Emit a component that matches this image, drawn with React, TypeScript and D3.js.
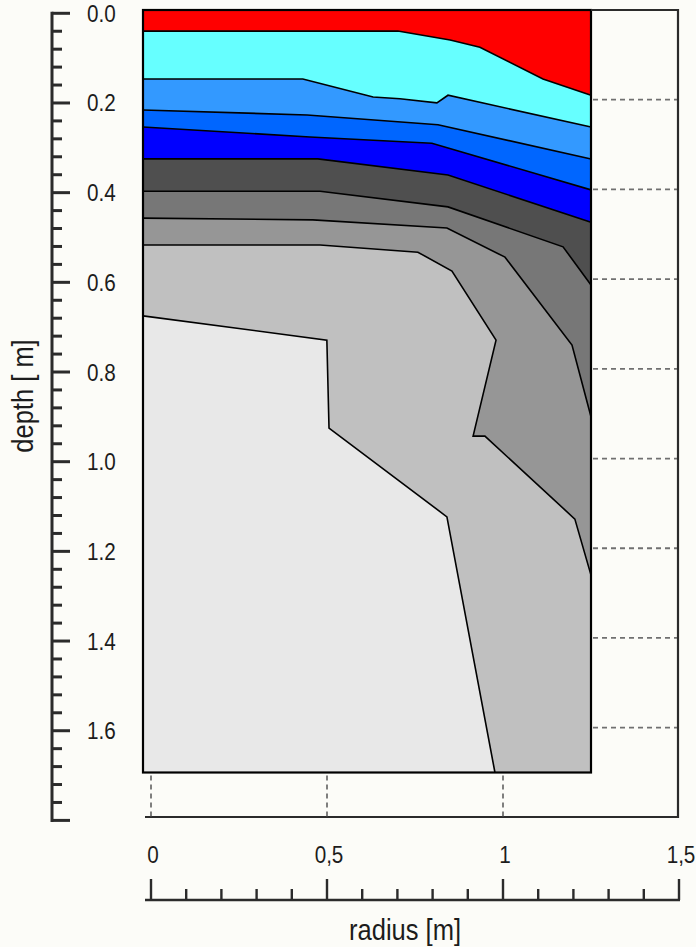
import React from "react";
import * as d3 from "d3";

// ---- data (radius [m], depth [m]) ----
const boundary1: [number, number][] = [[0, 0.047], [0.711, 0.047], [0.857, 0.067], [0.94, 0.083], [1.116, 0.154], [1.25, 0.19]];
const boundary2: [number, number][] = [[0, 0.154], [0.446, 0.154], [0.642, 0.194], [0.717, 0.198], [0.82, 0.207], [0.851, 0.19], [1.25, 0.261]];
const boundary3: [number, number][] = [[0, 0.223], [0.458, 0.234], [0.823, 0.256], [1.25, 0.332]];
const boundary4: [number, number][] = [[0, 0.261], [0.466, 0.283], [0.806, 0.297], [1.25, 0.401]];
const boundary5: [number, number][] = [[0, 0.332], [0.488, 0.332], [0.851, 0.368], [1.25, 0.473]];
const boundary6: [number, number][] = [[0, 0.404], [0.494, 0.404], [0.851, 0.439], [1.172, 0.528], [1.25, 0.613]];
const boundary7: [number, number][] = [[0, 0.464], [0.474, 0.468], [0.848, 0.486], [1.01, 0.551], [1.197, 0.747], [1.25, 0.907]];
const boundary8: [number, number][] = [[0, 0.524], [0.494, 0.524], [0.767, 0.54], [0.862, 0.582], [0.985, 0.736], [0.921, 0.95], [0.954, 0.95], [1.205, 1.135], [1.25, 1.26]];
const boundary9: [number, number][] = [[0, 0.682], [0.513, 0.736], [0.519, 0.932], [0.848, 1.13], [0.982, 1.7]];
const boundaries = [boundary1, boundary2, boundary3, boundary4, boundary5, boundary6, boundary7, boundary8, boundary9];

const bandColors = ["#ff0000", "#66ffff", "#3399ff", "#0066ff", "#0000ff", "#4f4f4f", "#777777", "#969696", "#c0c0c0", "#e8e8e8"];

const plotRadiusMax = 1.25;
const plotDepthMax = 1.7;
const depthLabels = ["0.0", "0.2", "0.4", "0.6", "0.8", "1.0", "1.2", "1.4", "1.6"];
const depthLabelValues = [0, 0.2, 0.4, 0.6, 0.8, 1.0, 1.2, 1.4, 1.6];
const radiusLabels = ["0", "0,5", "1", "1,5"];
const radiusLabelValues = [0, 0.5, 1, 1.5];
const gridDepths = [0.2, 0.4, 0.6, 0.8, 1.0, 1.2, 1.4, 1.6];
const gridRadii = [0, 0.5, 1.0];

const W = 696, H = 947;
const FONT = "'Liberation Sans', Arial, sans-serif";
const TXT = "#1c1c1c";
const AX = "#2b2b2b";

export default function App() {
  const xPlot = d3.scaleLinear().domain([0, plotRadiusMax]).range([143, 591]);
  const yPlot = d3.scaleLinear().domain([0, plotDepthMax]).range([10, 772.5]);
  const xGrid = d3.scaleLinear().domain([0, 1.5]).range([151, 679]);
  const yRuler = d3.scaleLinear().domain([0, 1.8]).range([13.3, 820.4]);

  const line = d3.line<[number, number]>().x(d => xPlot(d[0])).y(d => yPlot(d[1]));

  const polys = boundaries.map((b) => {
    const last = b[b.length - 1];
    const pts: [number, number][] = [...b];
    if (last[1] < plotDepthMax) pts.push([plotRadiusMax, plotDepthMax]);
    pts.push([0, plotDepthMax]);
    return line(pts) + "Z";
  });

  const depthMinor = d3.range(0, 1.8001, 0.04);
  const radiusMinor = d3.range(0, 1.5001, 0.1);
  const isMajor = (v: number, step: number) => Math.abs(v / step - Math.round(v / step)) < 1e-6;

  const x0 = xPlot(0), x1 = xPlot(plotRadiusMax), y0 = yPlot(0), y1 = yPlot(plotDepthMax);
  const frameRight = xGrid(1.5) - 1;
  const frameBottom = 817;
  const rulerX = 52;
  const rulerY = 900;

  return (
    <svg width={W} height={H} style={{ position: "absolute", left: 0, top: 0 }} fontFamily={FONT}>
      <rect x={0} y={0} width={W} height={H} fill="#fcfcf8" />
      {/* plot bands */}
      <rect x={x0} y={y0} width={x1 - x0} height={y1 - y0} fill={bandColors[0]} />
      {polys.map((p, i) => (
        <path key={"p" + i} d={p} fill={bandColors[i + 1]} stroke="none" />
      ))}
      {boundaries.map((b, i) => (
        <path key={"b" + i} d={line(b) || ""} fill="none" stroke="#000" strokeWidth={1.6} strokeLinejoin="miter" />
      ))}
      <rect x={x0} y={y0} width={x1 - x0} height={y1 - y0} fill="none" stroke="#000" strokeWidth={2.2} />

      {/* frame */}
      <path d={`M${x1},${y0}H${frameRight}V${frameBottom}H${xGrid(0) - 6}`} fill="none" stroke={AX} strokeWidth={2.2} />
      {gridDepths.map((d, i) => (
        <line key={"gh" + i} x1={x1 + 2} x2={frameRight - 1} y1={yPlot(d)} y2={yPlot(d)} stroke="#707070" strokeWidth={1.8} strokeDasharray="5 4" />
      ))}
      {gridRadii.map((r, i) => (
        <line key={"gv" + i} x1={xGrid(r)} x2={xGrid(r)} y1={y1 + 3} y2={frameBottom} stroke="#555" strokeWidth={1.5} strokeDasharray="5 4" />
      ))}

      {/* left depth ruler */}
      <line x1={rulerX} x2={rulerX} y1={yRuler(0) - 1.5} y2={yRuler(1.8) + 1.5} stroke={AX} strokeWidth={3} />
      {depthMinor.map((d, i) => (
        <line key={"dt" + i} x1={rulerX} x2={rulerX + (isMajor(d, 0.2) ? 18 : 10)} y1={yRuler(d)} y2={yRuler(d)} stroke={AX} strokeWidth={3} />
      ))}
      {depthLabels.map((t, i) => (
        <text key={"dl" + i} transform={`translate(87,${yRuler(depthLabelValues[i]) + 8.5}) scale(0.88,1)`} fontSize={23.5} fill={TXT}>{t}</text>
      ))}
      <text transform={`translate(33,396) rotate(-90) scale(0.88,1)`} textAnchor="middle" fontSize={29} fill={TXT}>depth [ m]</text>

      {/* bottom radius ruler */}
      <line x1={xGrid(0) - 6} x2={xGrid(1.5) + 1} y1={rulerY} y2={rulerY} stroke={AX} strokeWidth={2.6} />
      {radiusMinor.map((r, i) => (
        <line key={"rt" + i} x1={xGrid(r)} x2={xGrid(r)} y1={rulerY} y2={rulerY - (isMajor(r, 0.5) ? 21 : 11)} stroke={AX} strokeWidth={2.4} />
      ))}
      {radiusLabels.map((t, i) => (
        <text key={"rl" + i} transform={`translate(${xGrid(radiusLabelValues[i]) + 2},863) scale(0.88,1)`} textAnchor="middle" fontSize={23.5} fill={TXT}>{t}</text>
      ))}
      <text transform={`translate(405,940) scale(0.88,1)`} textAnchor="middle" fontSize={29} fill={TXT}>radius [m]</text>
    </svg>
  );
}
